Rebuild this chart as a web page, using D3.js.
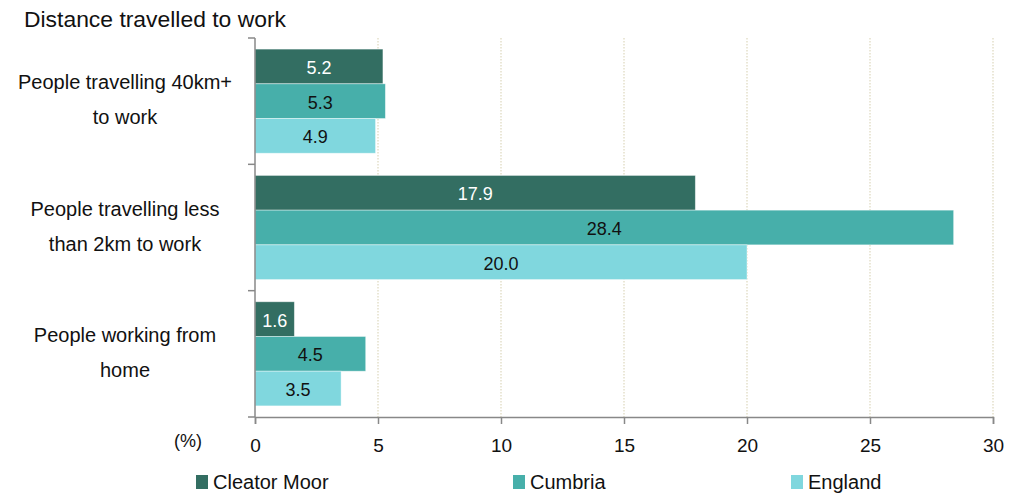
<!DOCTYPE html>
<html><head><meta charset="utf-8">
<script src="https://cdn.jsdelivr.net/npm/d3@7"></script>
<style>body{margin:0;background:#fff;} text{font-family:Arial,"Liberation Sans",sans-serif;}</style>
</head><body>
<svg id="c" width="1022" height="493"></svg>
<script>
const categories = [["People travelling 40km+","to work"],["People travelling less","than 2km to work"],["People working from","home"]];
const seriesNames = ["Cleator Moor","Cumbria","England"];
const cleatorMoor = [5.2, 17.9, 1.6];
const cumbria = [5.3, 28.4, 4.5];
const england = [4.9, 20.0, 3.5];
const xTicks = [0,5,10,15,20,25,30];
const colors = ["#336E62","#47AFAA","#80D7DE"];
const labelColors = ["#ffffff","#111111","#111111"];

(function(){
const series = [cleatorMoor, cumbria, england];
const svg = d3.select("#c");
const pl = 255, pr = 993, pt = 38, pb = 417;
const x = d3.scaleLinear().domain([0,30]).range([pl,pr]);
const y = d3.scaleBand().domain(d3.range(categories.length)).range([pt,pb]).paddingInner(0).paddingOuter(0);
const inner = d3.scaleBand().domain(d3.range(series.length)).range([0,y.bandwidth()]).paddingOuter(0.32).paddingInner(0);

svg.append("text").attr("x",24).attr("y",27).attr("font-size",22).attr("fill","#111")
  .attr("textLength",262).attr("lengthAdjust","spacingAndGlyphs").text("Distance travelled to work");

// gridlines
svg.append("g").selectAll("line").data(xTicks.filter(d=>d>0)).join("line")
  .attr("x1",d=>x(d)).attr("x2",d=>x(d)).attr("y1",pt).attr("y2",pb)
  .attr("stroke","#ddd8bd").attr("stroke-width",1.2).attr("stroke-dasharray","1.5,1.5");

// bars
series.forEach((vals,si)=>{
  const g = svg.append("g");
  g.selectAll("rect").data(vals).join("rect")
    .attr("x",x(0)).attr("y",(d,i)=>y(i)+inner(si))
    .attr("width",d=>x(d)-x(0)).attr("height",inner.bandwidth())
    .attr("fill",colors[si]).attr("stroke","#ffffff").attr("stroke-opacity",0.5).attr("stroke-width",0.8);
  g.selectAll("text").data(vals).join("text")
    .attr("x",d=>(x(d)+x(0))/2).attr("y",(d,i)=>y(i)+inner(si)+inner.bandwidth()/2+7.5)
    .attr("text-anchor","middle").attr("font-size",18).attr("fill",labelColors[si])
    .text(d=>d.toFixed(1));
});

// x axis
const xa = svg.append("g").attr("transform",`translate(0,${pb})`)
  .call(d3.axisBottom(x).tickValues(xTicks).tickSize(7).tickPadding(10).tickFormat(d3.format("d")));
xa.select(".domain").attr("stroke","#888").attr("stroke-width",1.5);
xa.selectAll(".tick line").attr("stroke","#888").attr("stroke-width",1.5);
xa.selectAll(".tick text").attr("font-size",19).attr("fill","#111").attr("dy",null).attr("y",35)
  .style("font-family","Arial, 'Liberation Sans', sans-serif");
svg.append("text").attr("x",188).attr("y",447).attr("text-anchor","middle").attr("font-size",18).attr("fill","#111").text("(%)");

// y axis
svg.append("line").attr("x1",pl).attr("x2",pl).attr("y1",pt).attr("y2",pb).attr("stroke","#888").attr("stroke-width",1.5);
svg.append("g").selectAll("line").data(d3.range(categories.length+1)).join("line")
  .attr("x1",pl-7).attr("x2",pl).attr("y1",d=>pt+d*y.step()).attr("y2",d=>pt+d*y.step())
  .attr("stroke","#888").attr("stroke-width",1.5);

// y labels
categories.forEach((lines,i)=>{
  const cy = y(i)+y.bandwidth()/2;
  lines.forEach((ln,j)=>{
    svg.append("text").attr("x",125).attr("y",cy + (j-(lines.length-1)/2)*35 + 5.5)
      .attr("text-anchor","middle").attr("font-size",20).attr("fill","#111").text(ln);
  });
});

// legend
const legendX = [196,513,791];
seriesNames.forEach((n,i)=>{
  svg.append("rect").attr("x",legendX[i]).attr("y",475).attr("width",12).attr("height",14).attr("fill",colors[i]);
  svg.append("text").attr("x",legendX[i]+17).attr("y",489).attr("font-size",20).attr("fill","#111").text(n);
});
})();
</script>
</body></html>
